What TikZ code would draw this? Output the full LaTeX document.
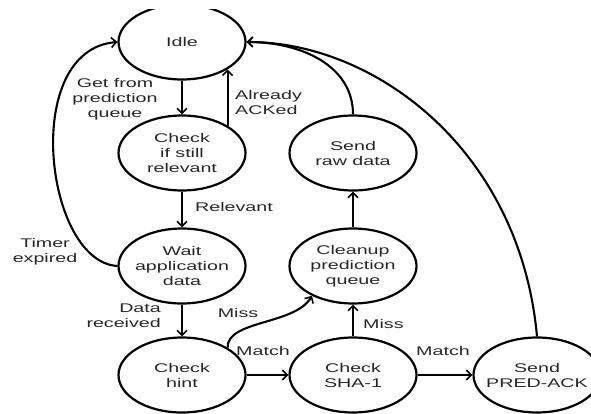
\documentclass[tikz,border=0pt]{standalone}
\usepackage{fontspec}
\newfontfamily\wfont[FakeStretch=1.56]{Liberation Sans}
\usetikzlibrary{arrows.meta,shapes.geometric}
\begin{document}
\begin{tikzpicture}[x=1pt,y=-1pt,
  txt/.style={font=\wfont\fontsize{12.6}{15}\selectfont,text=black!85},
  state/.style={txt,ellipse,draw,line width=2.2pt,minimum width=127pt,minimum height=75pt,
    inner xsep=-20pt,inner ysep=-5pt,align=center},
  lbl/.style={txt,inner sep=0pt},
  arr/.style={line width=2.1pt,-{Straight Barb[length=5pt,width=10pt,line width=1.6pt]}}]
\useasboundingbox (0,0) rectangle (591,414);
\clip (0,10) rectangle (591,414);
% states
\node[state] (idle)  at (182,42)  {Idle};
\node[state] (chk)   at (182,153) {Check\\if still\\relevant};
\node[state] (wait)  at (182,266) {Wait\\application\\data};
\node[state] (hint)  at (182,375) {Check\\hint};
\node[state] (sha)   at (353,375) {Check\\SHA-1};
\node[state] (clean) at (353,266) {Cleanup\\prediction\\queue};
\node[state] (raw)   at (353,153) {Send\\raw data};
\node[state] (pred)  at (537,375) {Send\\PRED-ACK};
% labels
\node[lbl,align=center] (l1) at (115,99) {Get from\\prediction\\queue};
\node[lbl,align=left,anchor=west] (l2) at (235,102) {Already\\ACKed};
\node[lbl,anchor=west] (l3) at (195,207) {Relevant};
\node[lbl,align=center] (l4) at (45,252) {Timer\\expired};
\node[lbl,align=right,anchor=east] (l5) at (161,316) {Data\\received};
\node[lbl] (l6) at (238,313) {Miss};
\node[lbl] (l7) at (263,351) {Match};
\node[lbl,anchor=west] (l8) at (363,324) {Miss};
\node[lbl] (l9) at (443,351) {Match};
% transitions
\draw[arr] (idle.south) -- (chk.north);
\draw[arr] (chk.31.5) -- (idle.-31.5);
\draw[arr] (chk.south) -- (wait.north);
\draw[arr] (wait.west) .. controls (45,262) and (20,50) .. (idle.west);
\draw[arr] (wait.south) -- (hint.north);
\draw[arr] (hint.31.5) .. controls (227,320) and (295,325) .. (clean.216);
\draw[arr] (hint.east) -- (sha.west);
\draw[arr] (sha.north) -- (clean.south);
\draw[arr] (sha.east) -- (pred.west);
\draw[arr] (clean.north) -- (raw.south);
\draw[arr] (raw.north) .. controls (353,65) and (300,42) .. (idle.east);
\draw[arr] (pred.north) .. controls (520,150) and (375,42) .. (idle.east);
\end{tikzpicture}
\end{document}
